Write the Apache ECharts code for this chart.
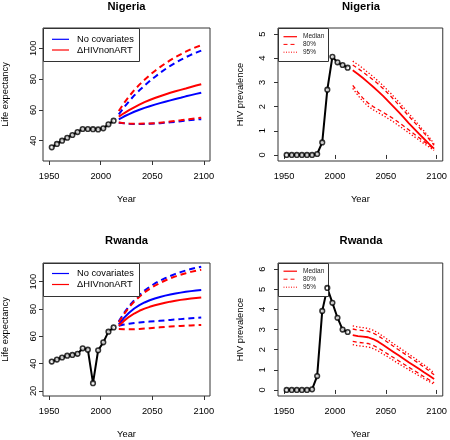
<!DOCTYPE html>
<html><head><meta charset="utf-8">
<script src="https://cdn.jsdelivr.net/npm/echarts@6/dist/echarts.min.js"></script>
<style>html,body{margin:0;padding:0;background:#fff}#c{width:450px;height:440px}</style>
</head><body><div id="c"></div>
<script>
// ---------- data ----------
const obsYears  = [1952.5, 1957.5, 1962.5, 1967.5, 1972.5, 1977.5, 1982.5, 1987.5, 1992.5, 1997.5, 2002.5, 2007.5, 2012.5];
const projYears = [2017.5, 2022.5, 2027.5, 2032.5, 2037.5, 2042.5, 2047.5, 2052.5, 2057.5, 2062.5, 2067.5, 2072.5, 2077.5, 2082.5, 2087.5, 2092.5, 2097.5];
const xTicks = [1950, 2000, 2050, 2100];

// Nigeria life expectancy
const ngLEObs = [35.7, 37.9, 40.0, 41.9, 43.7, 45.6, 47.6, 47.6, 47.5, 47.3, 48.0, 50.6, 53.0];
const ngLEBlueMed = [53.9, 55.7, 57.3, 58.8, 60.1, 61.3, 62.4, 63.4, 64.4, 65.3, 66.2, 67.1, 67.9, 68.8, 69.6, 70.4, 71.2];
const ngLEBlueHi  = [57.1, 61.6, 65.6, 69.4, 72.7, 75.8, 78.7, 81.4, 84.0, 86.4, 88.6, 90.6, 92.5, 94.2, 95.8, 97.2, 98.5];
const ngLEBlueLo  = [51.7, 51.3, 51.0, 50.9, 50.9, 50.9, 51.0, 51.1, 51.3, 51.6, 51.9, 52.2, 52.6, 53.0, 53.4, 53.7, 54.0];
const ngLERedMed  = [55.6, 57.8, 59.8, 61.7, 63.4, 65.0, 66.4, 67.7, 68.9, 70.0, 71.1, 72.1, 73.0, 73.9, 74.9, 75.8, 76.7];
const ngLERedHi   = [59.3, 64.3, 68.8, 72.8, 76.4, 79.6, 82.6, 85.3, 87.8, 90.1, 92.3, 94.3, 96.1, 97.8, 99.4, 100.8, 102.0];
const ngLERedLo   = [51.8, 51.4, 51.1, 51.0, 51.0, 51.1, 51.2, 51.4, 51.7, 52.0, 52.4, 52.8, 53.2, 53.7, 54.1, 54.5, 54.9];

// Rwanda life expectancy
const rwLEObs = [41.5, 43.0, 44.5, 45.8, 46.4, 47.2, 51.2, 50.2, 25.7, 49.8, 55.6, 63.4, 66.5];
const rwLEBlueMed = [68.8, 73.5, 77.3, 80.4, 82.8, 84.8, 86.4, 87.7, 88.8, 89.8, 90.6, 91.3, 92.0, 92.6, 93.1, 93.6, 94.0];
const rwLEBlueHi  = [71.0, 77.0, 82.2, 86.5, 90.2, 93.5, 96.3, 98.7, 100.8, 102.6, 104.2, 105.7, 107.0, 108.2, 109.3, 110.2, 111.0];
const rwLEBlueLo  = [67.8, 68.6, 69.2, 69.7, 70.1, 70.5, 70.8, 71.1, 71.4, 71.7, 72.0, 72.3, 72.6, 72.9, 73.2, 73.4, 73.7];
const rwLERedMed  = [67.8, 71.3, 74.3, 76.7, 78.7, 80.3, 81.6, 82.7, 83.7, 84.6, 85.4, 86.1, 86.7, 87.2, 87.7, 88.1, 88.5];
const rwLERedHi   = [70.3, 76.2, 81.3, 85.4, 89.0, 92.2, 94.8, 97.1, 99.1, 100.9, 102.5, 103.9, 105.1, 106.2, 107.2, 108.0, 108.7];
const rwLERedLo   = [65.3, 65.1, 65.1, 65.2, 65.4, 65.7, 66.0, 66.3, 66.6, 66.9, 67.2, 67.4, 67.6, 67.8, 68.0, 68.2, 68.3];

// Nigeria HIV prevalence
const ngHIVObs = [0, 0, 0, 0, 0, 0, 0.04, 0.52, 2.70, 4.06, 3.83, 3.72, 3.61];
const ngHIVMed  = [3.50, 3.35, 3.18, 3.00, 2.82, 2.63, 2.43, 2.22, 2.00, 1.78, 1.55, 1.32, 1.10, 0.88, 0.67, 0.46, 0.26];
const ngHIVHi80 = [3.72, 3.58, 3.43, 3.27, 3.11, 2.93, 2.74, 2.53, 2.31, 2.08, 1.85, 1.61, 1.38, 1.15, 0.91, 0.66, 0.40];
const ngHIVHi95 = [3.88, 3.74, 3.58, 3.41, 3.24, 3.06, 2.86, 2.65, 2.43, 2.20, 1.96, 1.72, 1.48, 1.24, 0.99, 0.74, 0.46];
const ngHIVLo80 = [2.88, 2.60, 2.35, 2.15, 2.00, 1.88, 1.76, 1.63, 1.50, 1.35, 1.20, 1.04, 0.88, 0.72, 0.56, 0.40, 0.24];
const ngHIVLo95 = [2.75, 2.47, 2.22, 2.02, 1.87, 1.75, 1.63, 1.50, 1.37, 1.22, 1.07, 0.92, 0.77, 0.62, 0.47, 0.33, 0.19];

// Rwanda HIV prevalence
const rwHIVObs = [0, 0, 0, 0, 0, 0.03, 0.69, 3.93, 5.07, 4.33, 3.59, 3.00, 2.88];
const rwHIVMed  = [2.73, 2.68, 2.65, 2.62, 2.53, 2.40, 2.23, 2.06, 1.89, 1.72, 1.55, 1.38, 1.22, 1.05, 0.88, 0.72, 0.55];
const rwHIVHi80 = [3.03, 2.98, 2.95, 2.92, 2.83, 2.69, 2.52, 2.35, 2.17, 2.00, 1.83, 1.66, 1.49, 1.32, 1.14, 0.96, 0.75];
const rwHIVHi95 = [3.18, 3.13, 3.10, 3.06, 2.97, 2.83, 2.66, 2.48, 2.30, 2.13, 1.96, 1.78, 1.61, 1.43, 1.25, 1.06, 0.84];
const rwHIVLo80 = [2.42, 2.37, 2.34, 2.31, 2.22, 2.09, 1.93, 1.77, 1.61, 1.45, 1.29, 1.13, 0.98, 0.82, 0.66, 0.51, 0.36];
const rwHIVLo95 = [2.25, 2.20, 2.17, 2.14, 2.06, 1.94, 1.78, 1.63, 1.47, 1.31, 1.16, 1.01, 0.86, 0.71, 0.56, 0.42, 0.28];

const titles = ['Nigeria', 'Nigeria', 'Rwanda', 'Rwanda'];
const leLegend = ['No covariates', 'ΔHIVnonART'];
const hivLegend = ['Median', '80%', '95%'];

// ---------- chart ----------
const FONT = "'Liberation Sans', Arial, Helvetica, sans-serif";
const BOX = '#333';
const BLUE = '#0000ff', RED = '#ff0000';
const DASH = [6, 4], DASH80 = [4, 3], DOT95 = [1.3, 2];
const zip = (xs, ys) => xs.map((x, i) => [x, ys[i]]);

const grids = [
  {left: 43, top: 28, width: 167, height: 133},
  {left: 278, top: 28, width: 166, height: 133},
  {left: 43, top: 263, width: 167, height: 133},
  {left: 278, top: 263, width: 166, height: 133}
].map(g => Object.assign(g, {show: true, borderColor: BOX, borderWidth: 1, backgroundColor: 'transparent', containLabel: false}));

const txt = {fontFamily: FONT, fontSize: 9.3, color: '#000'};
const plain = v => String(v);

const xAxes = [0, 1, 2, 3].map(gi => ({
  type: 'value', gridIndex: gi, min: 1944, max: 2106,
  axisLine: {show: false}, splitLine: {show: false},
  axisTick: {show: true, length: 4, lineStyle: {color: BOX}, customValues: xTicks},
  axisLabel: Object.assign({customValues: xTicks, margin: 11, formatter: plain}, txt),
  name: 'Year', nameLocation: 'middle', nameGap: 34, nameTextStyle: txt
}));

const yCfg = [
  {min: 26.8, max: 113.2, ticks: [40, 60, 80, 100], name: 'Life expectancy', margin: 5},
  {min: -0.25, max: 5.25, ticks: [0, 1, 2, 3, 4, 5], name: 'HIV prevalence', margin: 11},
  {min: 16.3, max: 113.7, ticks: [20, 40, 60, 80, 100], name: 'Life expectancy', margin: 5},
  {min: -0.3, max: 6.31, ticks: [0, 1, 2, 3, 4, 5, 6], name: 'HIV prevalence', margin: 11}
];
const yAxes = yCfg.map((c, gi) => ({
  type: 'value', gridIndex: gi, min: c.min, max: c.max,
  axisLine: {show: false}, splitLine: {show: false},
  axisTick: {show: true, length: 4, lineStyle: {color: BOX}, customValues: c.ticks},
  axisLabel: Object.assign({customValues: c.ticks, margin: c.margin, rotate: 90, formatter: plain}, txt),
  name: c.name, nameLocation: 'middle', nameGap: 33, nameTextStyle: txt
}));

const series = [];
function obs(gi, ys) {
  const d = zip(obsYears, ys);
  series.push({type: 'line', xAxisIndex: gi, yAxisIndex: gi, data: d, symbol: 'none', silent: true,
    lineStyle: {color: '#000', width: 2}, z: 2});
  series.push({type: 'scatter', xAxisIndex: gi, yAxisIndex: gi, data: d, symbolSize: 4.6, silent: true,
    itemStyle: {color: '#fff'}, z: 3});
  series.push({type: 'scatter', xAxisIndex: gi, yAxisIndex: gi, data: d, symbolSize: 4.6, silent: true,
    itemStyle: {color: 'rgba(255,255,255,0)', borderColor: '#000', borderWidth: 1.6}, z: 9});
}
function proj(gi, name, ys, color, width, type) {
  series.push({type: 'line', name: name, xAxisIndex: gi, yAxisIndex: gi, data: zip(projYears, ys),
    symbol: 'none', showSymbol: false, silent: true, z: 5,
    lineStyle: {color: color, width: width, type: type}, itemStyle: {color: color}});
}
// Nigeria LE
obs(0, ngLEObs);
proj(0, 'No covariates', ngLEBlueMed, BLUE, 2, 'solid');
proj(0, 'No covariates upper', ngLEBlueHi, BLUE, 2, DASH);
proj(0, 'No covariates lower', ngLEBlueLo, BLUE, 2, DASH);
proj(0, 'ΔHIVnonART', ngLERedMed, RED, 2, 'solid');
proj(0, 'ΔHIVnonART upper', ngLERedHi, RED, 2, DASH);
proj(0, 'ΔHIVnonART lower', ngLERedLo, RED, 2, DASH);
// Nigeria HIV
obs(1, ngHIVObs);
proj(1, 'Median', ngHIVMed, RED, 1.8, 'solid');
proj(1, '80%', ngHIVHi80, RED, 1.3, DASH80);
proj(1, '80%', ngHIVLo80, RED, 1.3, DASH80);
proj(1, '95%', ngHIVHi95, RED, 1.3, DOT95);
proj(1, '95%', ngHIVLo95, RED, 1.3, DOT95);
// Rwanda LE
obs(2, rwLEObs);
proj(2, 'No covariates', rwLEBlueMed, BLUE, 2, 'solid');
proj(2, 'No covariates upper', rwLEBlueHi, BLUE, 2, DASH);
proj(2, 'No covariates lower', rwLEBlueLo, BLUE, 2, DASH);
proj(2, 'ΔHIVnonART', rwLERedMed, RED, 2, 'solid');
proj(2, 'ΔHIVnonART upper', rwLERedHi, RED, 2, DASH);
proj(2, 'ΔHIVnonART lower', rwLERedLo, RED, 2, DASH);
// Rwanda HIV
obs(3, rwHIVObs);
proj(3, 'Median', rwHIVMed, RED, 1.8, 'solid');
proj(3, '80%', rwHIVHi80, RED, 1.3, DASH80);
proj(3, '80%', rwHIVLo80, RED, 1.3, DASH80);
proj(3, '95%', rwHIVHi95, RED, 1.3, DOT95);
proj(3, '95%', rwHIVLo95, RED, 1.3, DOT95);

// ---------- legends (R-style boxed keys) ----------
const graphic = [];
function legendBox(id, x, y, w, h, rows, keyX1, keyX2, textX, fontSize, textColor) {
  graphic.push({type: 'rect', id: id + '-box', z: 6, silent: true, shape: {x: x, y: y, width: w, height: h},
    style: {fill: '#fff', stroke: BOX, lineWidth: 1}});
  rows.forEach((r, i) => {
    if (r.dash) {
      graphic.push({type: 'line', id: id + '-key' + i, z: 7, silent: true, shape: {x1: keyX1, y1: r.y, x2: keyX2, y2: r.y},
        style: {stroke: r.color, lineWidth: 1, lineDash: r.dash}});
    } else {
      graphic.push({type: 'rect', id: id + '-key' + i, z: 7, silent: true,
        shape: {x: keyX1, y: r.y - 0.6, width: keyX2 - keyX1, height: 1.2},
        style: {fill: r.color, stroke: null}});
    }
    graphic.push({type: 'text', id: id + '-txt' + i, z: 8, silent: true, x: textX, y: r.y,
      style: {text: r.text, fontFamily: FONT, fontSize: fontSize, fill: textColor, align: 'left', verticalAlign: 'middle'}});
  });
}
const leColors = [BLUE, RED];
const hivDash = [null, DASH80, [1, 1.5]];
legendBox('ngle', 43.5, 28.5, 96, 33, leLegend.map((t, i) => ({text: t, color: leColors[i], dash: null, y: [39.3, 50][i]})), 52, 69, 77, 9.3, '#000');
legendBox('rwle', 43.5, 263.5, 96, 33, leLegend.map((t, i) => ({text: t, color: leColors[i], dash: null, y: [273.5, 284.5][i]})), 52, 69, 77, 9.3, '#000');
legendBox('nghiv', 278.5, 28.5, 50, 33, hivLegend.map((t, i) => ({text: t, color: RED, dash: hivDash[i], y: [36.7, 44.4, 52.2][i]})), 283.5, 297, 303, 6.5, '#222');
legendBox('rwhiv', 278.5, 263.5, 50, 33, hivLegend.map((t, i) => ({text: t, color: RED, dash: hivDash[i], y: [271.2, 279.2, 287.2][i]})), 283.5, 297, 303, 6.5, '#222');

const titleCenters = [[126.5, 6.5], [361, 6.5], [126.5, 241], [361, 241]];
titles.forEach((t, i) => graphic.push({
  type: 'text', id: 'title' + i, z: 8, x: titleCenters[i][0], y: titleCenters[i][1], silent: true,
  style: {text: t, fontFamily: FONT, fontSize: 11.2, fontWeight: 'bold', fill: '#000', align: 'center', verticalAlign: 'middle'}
}));

const chart = echarts.init(document.getElementById('c'), null, {renderer: 'canvas'});
chart.setOption({
  animation: false,
  backgroundColor: '#fff',
  grid: grids, xAxis: xAxes, yAxis: yAxes,
  graphic: {elements: graphic},
  series: series
});
</script></body></html>
